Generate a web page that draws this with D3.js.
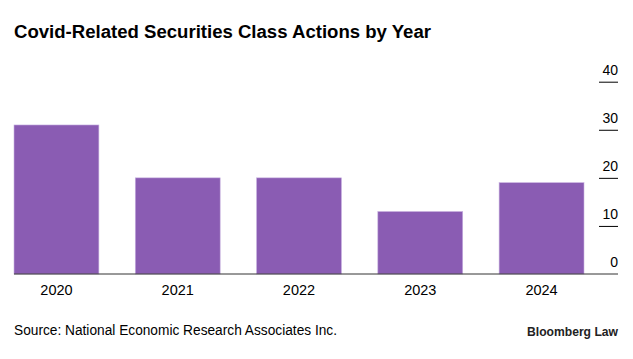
<!DOCTYPE html>
<html>
<head>
<meta charset="utf-8">
<script src="https://cdn.jsdelivr.net/npm/d3@7"></script>
<style>
  html, body { margin: 0; padding: 0; background: #fff; }
  svg { display: block; font-family: "Liberation Sans", Arial, Helvetica, sans-serif; }
</style>
</head>
<body>
<svg id="chart" width="633" height="359"></svg>
<script>
const years = ["2020", "2021", "2022", "2023", "2024"];
const counts = [31, 20, 20, 13, 19];
const yTicks = [0, 10, 20, 30, 40];
const titleText = "Covid-Related Securities Class Actions by Year";
const sourceText = "Source: National Economic Research Associates Inc.";
const brandText = "Bloomberg Law";

const svg = d3.select("#chart");
const W = 633, H = 359;

const x = d3.scaleBand().domain(years).range([14, 584]).paddingInner(0.3).paddingOuter(0);
const y = d3.scaleLinear().domain([0, 40]).range([274, 81.7]);

// title
svg.append("text")
  .attr("x", 14).attr("y", 37.5)
  .attr("font-size", 18).attr("font-weight", "bold").attr("fill", "#000")
  .attr("textLength", 417).attr("lengthAdjust", "spacingAndGlyphs")
  .text(titleText);

// bars
svg.append("g").selectAll("rect")
  .data(years.map((d, i) => ({year: d, value: counts[i]})))
  .join("rect")
  .attr("x", d => x(d.year))
  .attr("width", x.bandwidth())
  .attr("y", d => y(d.value))
  .attr("height", d => y(0) - y(d.value))
  .attr("fill", "#8a5cb3")
  .attr("stroke", "#c8b2e0")
  .attr("stroke-width", 0.6);

// y axis on right: tick lines and labels above them
const yAxis = d3.axisRight(y).tickValues(yTicks.filter(t => t > 0)).tickSize(19).tickFormat("");
const yg = svg.append("g").attr("transform", "translate(599,0)").call(yAxis);
yg.select(".domain").remove();
yg.selectAll(".tick line").attr("stroke", "#000").attr("stroke-width", 1);

svg.append("g").selectAll("text")
  .data(yTicks)
  .join("text")
  .attr("x", 618)
  .attr("y", d => y(d) - 7)
  .attr("text-anchor", "end")
  .attr("font-size", 14)
  .attr("fill", "#000")
  .text(d => d);

// baseline / x axis
const xAxis = d3.axisBottom(x).tickSize(0).tickPadding(0);
const xg = svg.append("g").attr("transform", `translate(0,${y(0)})`).call(xAxis);
xg.select(".domain").remove();
xg.selectAll(".tick text").remove();
svg.append("line")
  .attr("x1", 14).attr("x2", 618)
  .attr("y1", y(0)).attr("y2", y(0))
  .attr("stroke", "#333").attr("stroke-width", 1);

svg.append("g").selectAll("text")
  .data(years)
  .join("text")
  .attr("x", d => x(d) + x.bandwidth() / 2)
  .attr("y", 294.5)
  .attr("text-anchor", "middle")
  .attr("font-size", 14.5)
  .attr("fill", "#000")
  .text(d => d);

// footer
svg.append("text")
  .attr("x", 14).attr("y", 335)
  .attr("font-size", 14).attr("fill", "#000")
  .attr("textLength", 323).attr("lengthAdjust", "spacingAndGlyphs")
  .text(sourceText);

svg.append("text")
  .attr("x", 618).attr("y", 335.5)
  .attr("text-anchor", "end")
  .attr("font-size", 12.5).attr("font-weight", "bold").attr("fill", "#222")
  .attr("textLength", 91).attr("lengthAdjust", "spacingAndGlyphs")
  .text(brandText);
</script>
</body>
</html>
